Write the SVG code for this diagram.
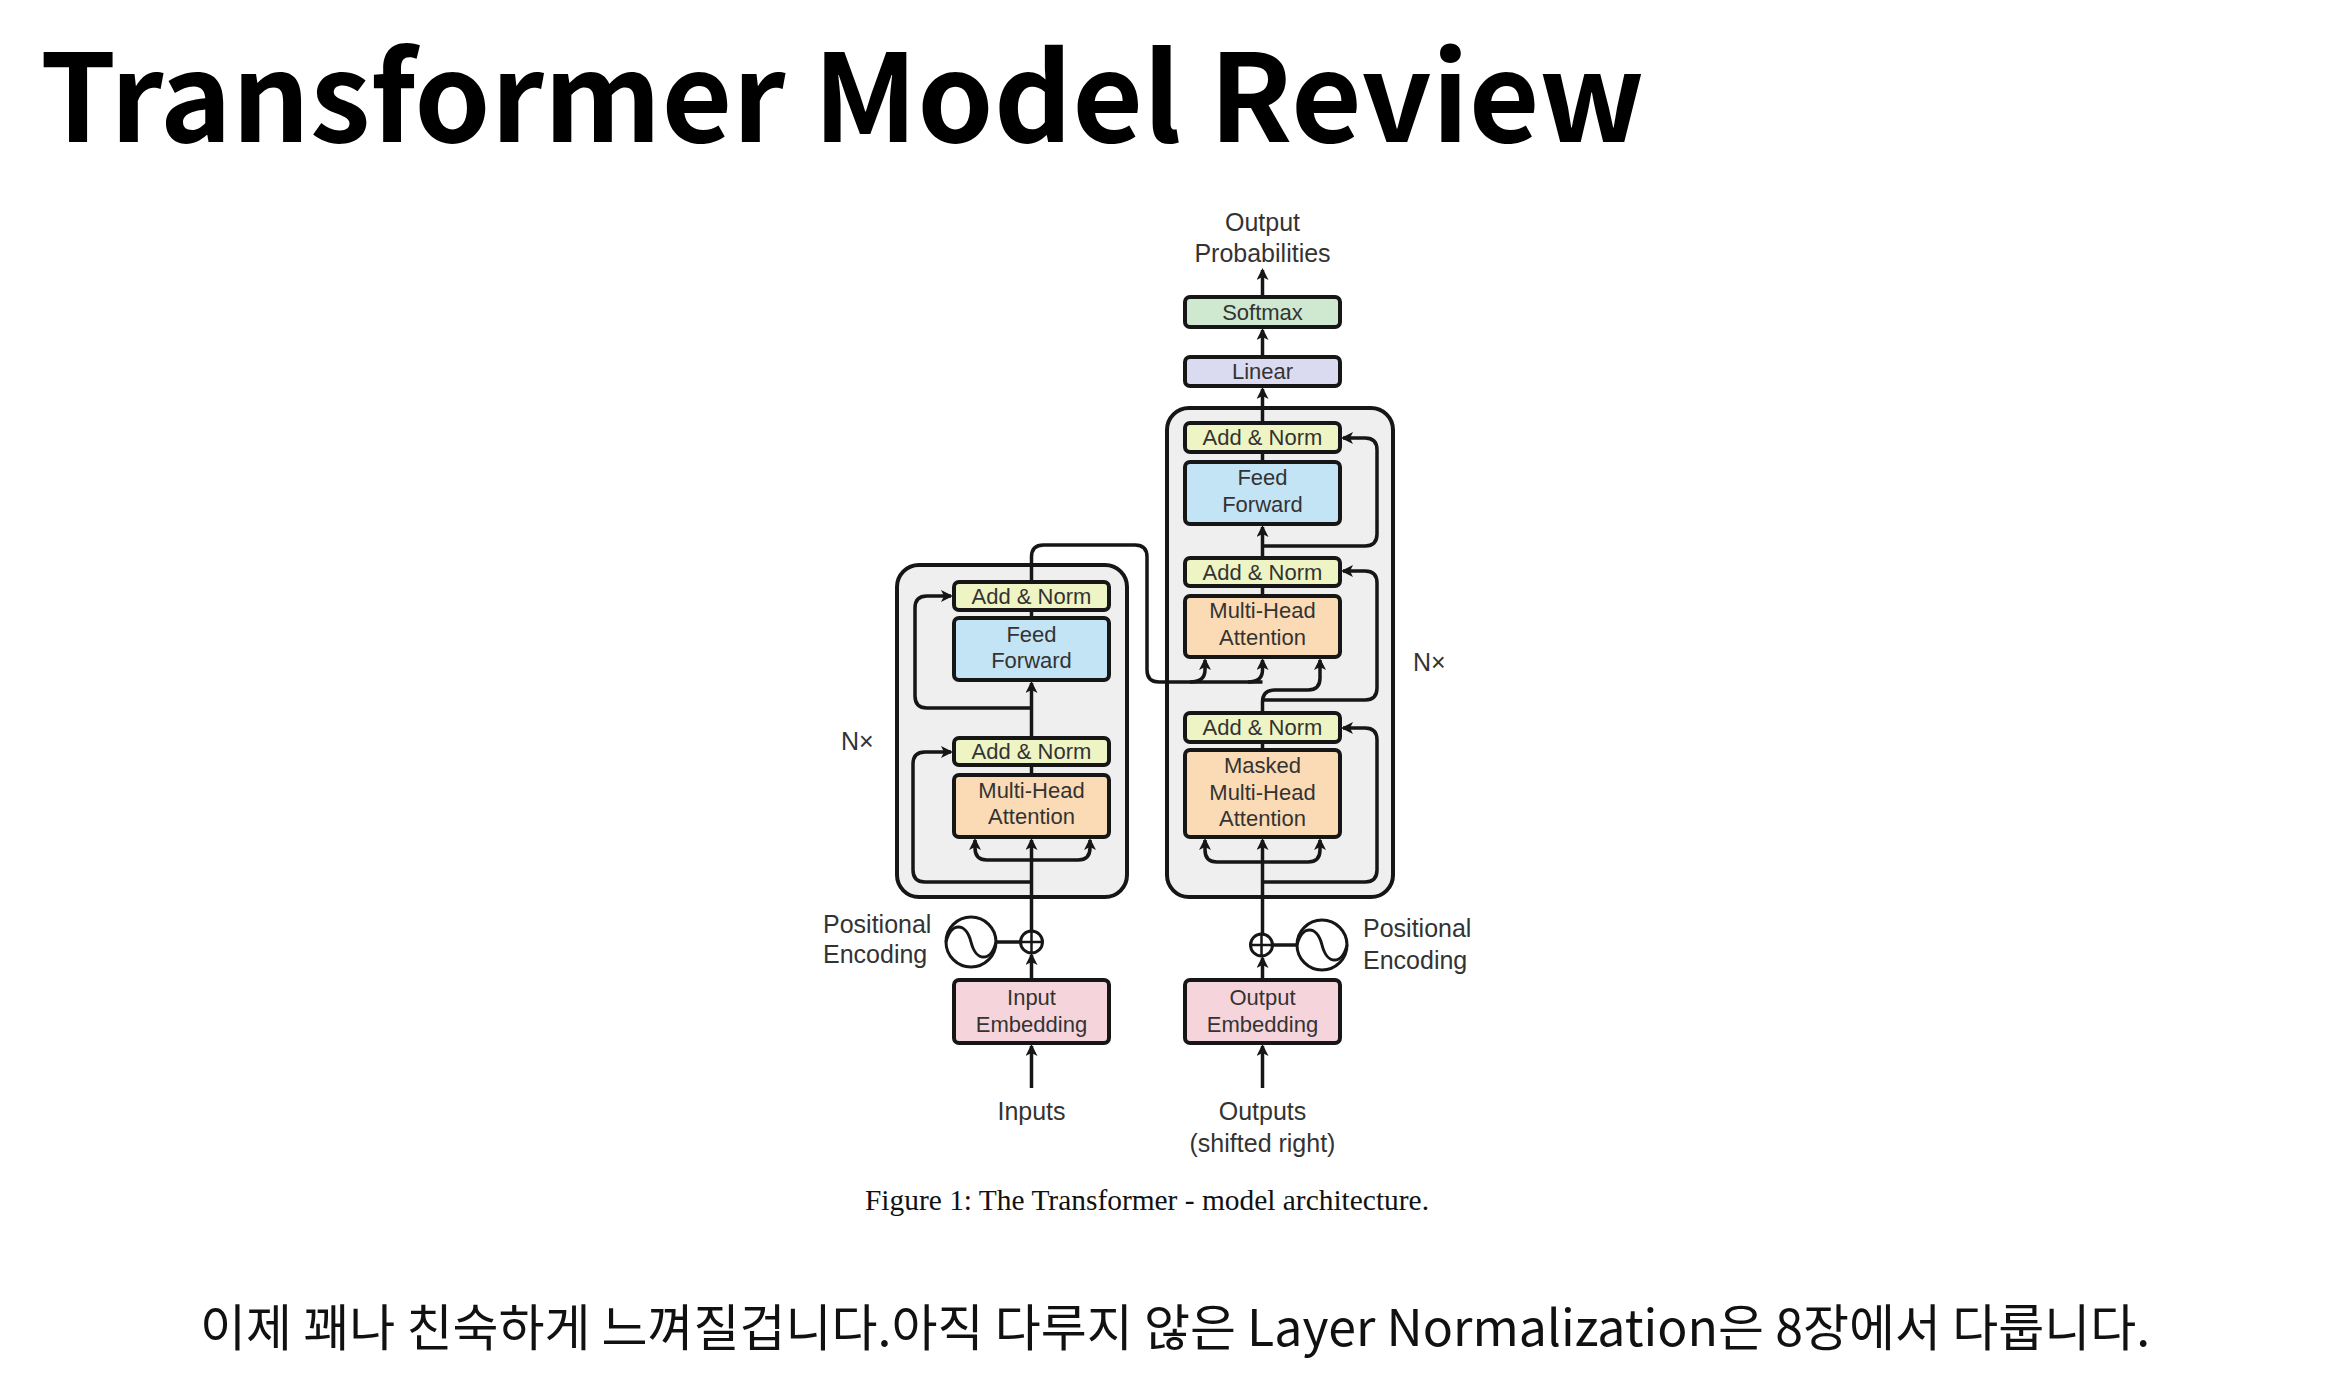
<svg xmlns="http://www.w3.org/2000/svg" width="2345" height="1385" viewBox="0 0 2345 1385">
  <style>
    .title { font-family: "Noto Sans CJK KR", "Noto Sans", sans-serif; font-weight: 700; font-size: 122px; fill: #000; }
    .note { font-family: "Noto Sans CJK KR", "Noto Sans", sans-serif; font-size: 50px; fill: #111; }
    .caption { font-family: "Liberation Serif", serif; font-size: 29px; fill: #111; }
    .lbl { font-family: "Liberation Sans", Arial, sans-serif; font-size: 22px; fill: #333; text-anchor: middle; }
    .out { font-family: "Liberation Sans", Arial, sans-serif; font-size: 25px; fill: #333; }
    .mid { text-anchor: middle; }
    .box { stroke: #161616; stroke-width: 4; }
    .stack { fill: #efefef; stroke: #161616; stroke-width: 4; }
    .softmax { fill: #cfe9d1; }
    .linear { fill: #dadaf0; }
    .addnorm { fill: #eff4c4; }
    .ff { fill: #c3e4f5; }
    .mha { fill: #fbdbb5; }
    .emb { fill: #f5d5db; }
    .wire { fill: none; stroke: #161616; stroke-width: 3.5; }
    .arr { fill: none; stroke: #161616; stroke-width: 3.5; marker-end: url(#head); }
    .pe { fill: #fff; stroke: #161616; stroke-width: 3; }
  </style>
  <defs>
    <marker id="head" markerUnits="userSpaceOnUse" markerWidth="14" markerHeight="14" refX="10" refY="6" orient="auto">
      <path d="M0,0 L12,6 L0,12 L3,6 z" fill="#161616"/>
    </marker>
    <g id="sine">
      <circle r="25" class="pe"/>
      <path d="M-25,0 C-20,-20 -5,-20 0,0 C5,20 20,20 25,0" fill="none" stroke="#161616" stroke-width="3"/>
    </g>
    <g id="plus">
      <circle r="11" class="pe"/>
      <path d="M-11,0 H11 M0,-11 V11" stroke="#161616" stroke-width="2.5"/>
    </g>
  </defs>

  <rect width="2345" height="1385" fill="#fff"/>

  <!-- heading -->
  <text class="title" x="40" y="142">Transformer Model Review</text>

  <!-- repeated layer stacks -->
  <g id="encoder-stack"><rect class="stack" x="897" y="565" width="230" height="332" rx="22"/></g>
  <g id="decoder-stack"><rect class="stack" x="1167" y="408" width="226" height="489" rx="22"/></g>

  <!-- connectors -->
  <g id="connectors">
    <!-- encoder -->
    <path class="arr" d="M1031.5,1088 V1046"/>
    <path class="arr" d="M1031.5,980 V955"/>
    <path class="wire" d="M996,942 H1020"/>
    <path class="arr" d="M1031.5,931 V840"/>
    <path class="arr" d="M1031.5,860 H987 Q975,860 975,848 V840"/>
    <path class="arr" d="M1031.5,860 H1078 Q1090,860 1090,848 V840"/>
    <path class="arr" d="M1031.5,882 H925 Q913,882 913,870 V764 Q913,752 925,752 H951"/>
    <path class="wire" d="M1031.5,775 V765"/>
    <path class="arr" d="M1031.5,738 V683"/>
    <path class="arr" d="M1031.5,708 H927 Q915,708 915,696 V608 Q915,596 927,596 H951"/>
    <path class="wire" d="M1031.5,618 V610"/>
    <path class="wire" d="M1031.5,582 V557 Q1031.5,545 1043.5,545 H1135 Q1147,545 1147,557 V670 Q1147,682 1159,682 H1262.5"/>
    <path class="arr" d="M1190,682 Q1205,682 1205,670 V660"/>
    <path class="arr" d="M1248,682 Q1262.5,682 1262.5,670 V660"/>
    <!-- decoder -->
    <path class="arr" d="M1262.5,1088 V1046"/>
    <path class="arr" d="M1262.5,980 V958"/>
    <path class="wire" d="M1272,945 H1297"/>
    <path class="arr" d="M1262.5,934 V840"/>
    <path class="arr" d="M1262.5,862 H1217 Q1205,862 1205,850 V840"/>
    <path class="arr" d="M1262.5,862 H1308 Q1320,862 1320,850 V840"/>
    <path class="arr" d="M1262.5,882 H1365 Q1377,882 1377,870 V740 Q1377,728 1365,728 H1343"/>
    <path class="wire" d="M1262.5,750 V742"/>
    <path class="arr" d="M1262.5,713 V702 Q1262.5,690 1274.5,690 H1308 Q1320,690 1320,678 V660"/>
    <path class="arr" d="M1262.5,700 H1365 Q1377,700 1377,688 V583 Q1377,571 1365,571 H1343"/>
    <path class="wire" d="M1262.5,596 V586"/>
    <path class="arr" d="M1262.5,558 V527"/>
    <path class="arr" d="M1262.5,546 H1365 Q1377,546 1377,534 V450 Q1377,438 1365,438 H1343"/>
    <path class="wire" d="M1262.5,462 V452"/>
    <path class="arr" d="M1262.5,423 V389"/>
    <path class="arr" d="M1262.5,357 V330"/>
    <path class="arr" d="M1262.5,297 V270"/>
  </g>

  <!-- positional encodings -->
  <g id="enc-posenc"><use href="#sine" x="971" y="942"/></g>
  <g id="enc-add"><use href="#plus" x="1031.5" y="942"/></g>
  <g id="dec-add"><use href="#plus" x="1261.5" y="945"/></g>
  <g id="dec-posenc"><use href="#sine" x="1322" y="945"/></g>

  <!-- encoder nodes -->
  <g id="enc-addnorm-2"><rect class="box addnorm" x="954" y="582" width="155" height="28" rx="5"/><text class="lbl" x="1031.5" y="604">Add &amp; Norm</text></g>
  <g id="enc-ff"><rect class="box ff" x="954" y="618" width="155" height="62" rx="5"/><text class="lbl" x="1031.5" y="642">Feed</text><text class="lbl" x="1031.5" y="668">Forward</text></g>
  <g id="enc-addnorm-1"><rect class="box addnorm" x="954" y="738" width="155" height="27" rx="5"/><text class="lbl" x="1031.5" y="759">Add &amp; Norm</text></g>
  <g id="enc-mha"><rect class="box mha" x="954" y="775" width="155" height="62" rx="5"/><text class="lbl" x="1031.5" y="798">Multi-Head</text><text class="lbl" x="1031.5" y="824">Attention</text></g>
  <g id="input-embedding"><rect class="box emb" x="954" y="980" width="155" height="63" rx="5"/><text class="lbl" x="1031.5" y="1005">Input</text><text class="lbl" x="1031.5" y="1032">Embedding</text></g>

  <!-- decoder nodes -->
  <g id="softmax"><rect class="box softmax" x="1185" y="297" width="155" height="30" rx="5"/><text class="lbl" x="1262.5" y="320">Softmax</text></g>
  <g id="linear"><rect class="box linear" x="1185" y="357" width="155" height="29" rx="5"/><text class="lbl" x="1262.5" y="379">Linear</text></g>
  <g id="dec-addnorm-3"><rect class="box addnorm" x="1185" y="423" width="155" height="29" rx="5"/><text class="lbl" x="1262.5" y="445">Add &amp; Norm</text></g>
  <g id="dec-ff"><rect class="box ff" x="1185" y="462" width="155" height="62" rx="5"/><text class="lbl" x="1262.5" y="485">Feed</text><text class="lbl" x="1262.5" y="512">Forward</text></g>
  <g id="dec-addnorm-2"><rect class="box addnorm" x="1185" y="558" width="155" height="28" rx="5"/><text class="lbl" x="1262.5" y="580">Add &amp; Norm</text></g>
  <g id="dec-mha"><rect class="box mha" x="1185" y="596" width="155" height="61" rx="5"/><text class="lbl" x="1262.5" y="618">Multi-Head</text><text class="lbl" x="1262.5" y="645">Attention</text></g>
  <g id="dec-addnorm-1"><rect class="box addnorm" x="1185" y="713" width="155" height="29" rx="5"/><text class="lbl" x="1262.5" y="735">Add &amp; Norm</text></g>
  <g id="dec-masked-mha"><rect class="box mha" x="1185" y="750" width="155" height="87" rx="5"/><text class="lbl" x="1262.5" y="773">Masked</text><text class="lbl" x="1262.5" y="800">Multi-Head</text><text class="lbl" x="1262.5" y="826">Attention</text></g>
  <g id="output-embedding"><rect class="box emb" x="1185" y="980" width="155" height="63" rx="5"/><text class="lbl" x="1262.5" y="1005">Output</text><text class="lbl" x="1262.5" y="1032">Embedding</text></g>

  <!-- outer labels -->
  <text class="out mid" x="1262.5" y="231">Output</text>
  <text class="out mid" x="1262.5" y="262">Probabilities</text>
  <text class="out" x="823" y="933">Positional</text>
  <text class="out" x="823" y="963">Encoding</text>
  <text class="out" x="1363" y="937">Positional</text>
  <text class="out" x="1363" y="969">Encoding</text>
  <text class="out mid" x="1031.5" y="1120">Inputs</text>
  <text class="out mid" x="1262.5" y="1120">Outputs</text>
  <text class="out mid" x="1262.5" y="1152">(shifted right)</text>
  <text class="out" x="841" y="750" font-size="22">N×</text>
  <text class="out" x="1413" y="671" font-size="22">N×</text>

  <text class="caption" x="865" y="1210" textLength="564" lengthAdjust="spacingAndGlyphs">Figure 1: The Transformer - model architecture.</text>

  <text class="note" x="200" y="1346">이제 꽤나 친숙하게 느껴질겁니다.아직 다루지 않은 Layer Normalization은 8장에서 다룹니다.</text>
</svg>
